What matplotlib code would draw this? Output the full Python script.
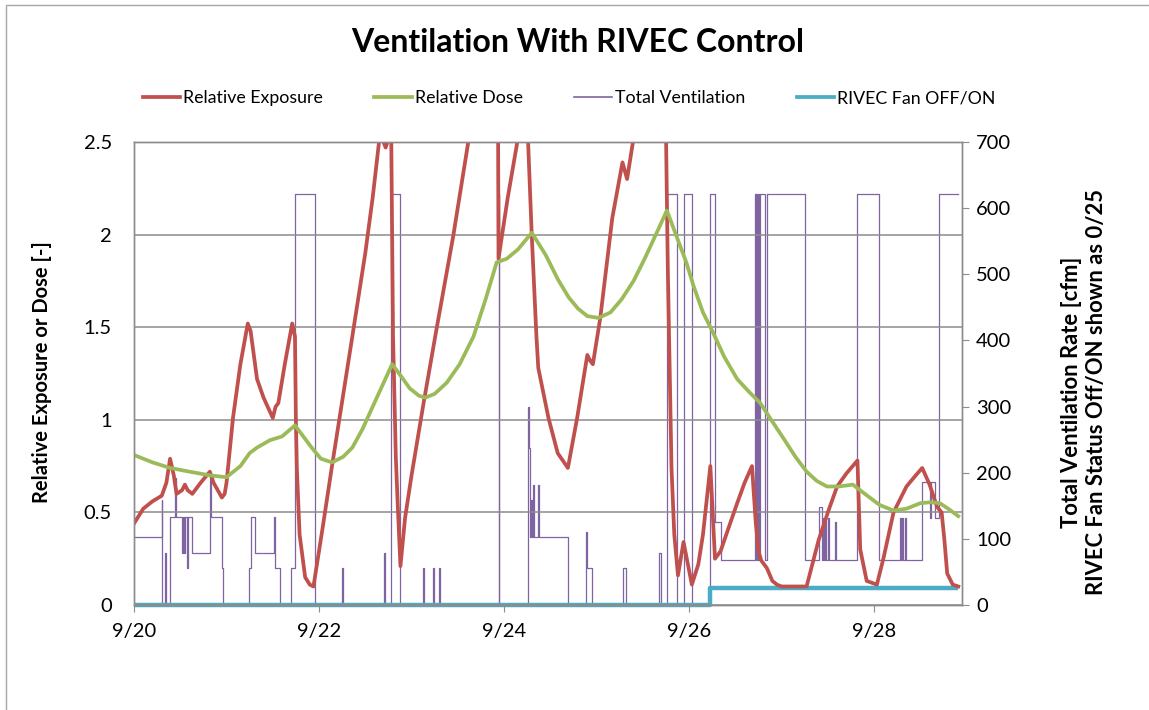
"""Ventilation with RIVEC control: relative exposure/dose on the left axis,
total ventilation and fan status on the right axis."""

import matplotlib

matplotlib.use("Agg")
import matplotlib.pyplot as plt
import matplotlib.patches as mpatches
import pandas as pd

plt.rcParams["font.family"] = ["Lato", "DejaVu Sans"]

START = pd.Timestamp("2009-09-20")

# days since 9/20 and relative exposure [-]
exp_days = [0.00, 0.10, 0.20, 0.30, 0.35, 0.39, 0.43, 0.46, 0.52, 0.55, 0.58, 0.63,
            0.72, 0.82, 0.86, 0.95, 0.98, 1.00, 1.07, 1.15, 1.23, 1.26, 1.33, 1.40,
            1.50, 1.53, 1.56, 1.63, 1.71, 1.74, 1.75, 1.76, 1.79, 1.85, 1.90, 1.94,
            2.04, 2.14, 2.25, 2.36, 2.50, 2.58, 2.66, 2.72, 2.78, 2.80, 2.83, 2.85,
            2.88, 2.93, 3.00, 3.13, 3.27, 3.45, 3.61, 3.75, 3.93, 3.94, 4.04, 4.14,
            4.25, 4.26, 4.30, 4.35, 4.37, 4.48, 4.58, 4.69, 4.79, 4.90, 4.93, 4.96,
            5.04, 5.17, 5.28, 5.33, 5.39, 5.55, 5.73, 5.77, 5.81, 5.84, 5.88, 5.94,
            6.03, 6.10, 6.15, 6.23, 6.28, 6.34, 6.45, 6.52, 6.60, 6.68, 6.72, 6.75,
            6.78, 6.84, 6.90, 6.95, 7.00, 7.27, 7.40, 7.50, 7.60, 7.70, 7.82, 7.85,
            7.92, 8.03, 8.10, 8.21, 8.35, 8.45, 8.52, 8.60, 8.68, 8.73, 8.76, 8.79,
            8.85, 8.91]
exposure = [0.44, 0.52, 0.56, 0.59, 0.66, 0.79, 0.70, 0.60, 0.62, 0.65, 0.62, 0.60,
            0.66, 0.72, 0.66, 0.58, 0.60, 0.66, 1.01, 1.30, 1.52, 1.48, 1.22, 1.12,
            1.01, 1.07, 1.09, 1.30, 1.52, 1.45, 1.00, 0.74, 0.38, 0.15, 0.11, 0.10,
            0.42, 0.75, 1.10, 1.45, 1.90, 2.20, 2.55, 2.47, 2.56, 1.45, 0.80, 0.55,
            0.21, 0.47, 0.70, 1.09, 1.49, 1.99, 2.49, 2.90, 3.40, 1.87, 2.20, 2.49,
            2.80, 2.50, 1.99, 1.45, 1.28, 1.01, 0.82, 0.74, 1.01, 1.35, 1.32, 1.30,
            1.55, 2.09, 2.39, 2.30, 2.49, 2.90, 3.30, 1.82, 0.74, 0.38, 0.16, 0.34,
            0.11, 0.22, 0.38, 0.75, 0.25, 0.29, 0.45, 0.55, 0.66, 0.75, 0.45, 0.29,
            0.24, 0.20, 0.13, 0.11, 0.10, 0.10, 0.35, 0.50, 0.64, 0.71, 0.78, 0.30,
            0.13, 0.11, 0.25, 0.50, 0.64, 0.70, 0.74, 0.65, 0.53, 0.50, 0.35, 0.17,
            0.11, 0.10]

# days since 9/20 and relative dose [-]
dose_days = [0.00, 0.20, 0.39, 0.60, 0.82, 1.00, 1.15, 1.25, 1.33, 1.47, 1.60, 1.74,
             1.83, 1.92, 2.02, 2.14, 2.26, 2.36, 2.47, 2.57, 2.68, 2.79, 2.88, 2.98,
             3.08, 3.15, 3.25, 3.38, 3.52, 3.67, 3.80, 3.92, 4.03, 4.15, 4.30, 4.45,
             4.58, 4.70, 4.80, 4.90, 5.02, 5.15, 5.27, 5.40, 5.52, 5.65, 5.76, 5.85,
             5.97, 6.05, 6.15, 6.26, 6.38, 6.52, 6.65, 6.77, 6.90, 7.02, 7.15, 7.27,
             7.38, 7.49, 7.62, 7.77, 7.90, 8.06, 8.21, 8.35, 8.50, 8.62, 8.71, 8.80,
             8.91]
dose = [0.81, 0.77, 0.74, 0.72, 0.70, 0.69, 0.75, 0.82, 0.85, 0.89, 0.91, 0.97,
        0.91, 0.85, 0.79, 0.77, 0.80, 0.85, 0.95, 1.06, 1.18, 1.30, 1.24, 1.17,
        1.13, 1.12, 1.14, 1.20, 1.30, 1.45, 1.65, 1.85, 1.87, 1.92, 2.01, 1.89,
        1.76, 1.66, 1.60, 1.56, 1.55, 1.58, 1.65, 1.75, 1.87, 2.01, 2.13, 2.01,
        1.85, 1.72, 1.58, 1.47, 1.34, 1.22, 1.15, 1.09, 0.99, 0.90, 0.80, 0.72,
        0.67, 0.64, 0.64, 0.65, 0.60, 0.54, 0.51, 0.52, 0.55, 0.555, 0.55, 0.52,
        0.48]

# step changes of total ventilation [cfm]
vent_days = [0.00, 0.30, 0.305, 0.335, 0.35, 0.39, 0.44, 0.45, 0.515, 0.53, 0.54, 0.55,
             0.57, 0.58, 0.63, 0.82, 0.83, 0.95, 0.96, 1.24, 1.27, 1.31, 1.51, 1.525,
             1.58, 1.70, 1.74, 1.96, 2.245, 2.26, 2.705, 2.715, 2.78, 2.875, 3.12, 3.13,
             3.23, 3.24, 3.30, 3.31, 3.94, 3.95, 4.26, 4.27, 4.28, 4.29, 4.30, 4.31,
             4.32, 4.37, 4.38, 4.695, 4.89, 4.90, 4.95, 5.29, 5.32, 5.67, 5.70, 5.76,
             5.87, 5.94, 6.03, 6.23, 6.28, 6.34, 6.71, 6.72, 6.725, 6.735, 6.74, 6.76,
             6.77, 6.82, 6.84, 7.25, 7.40, 7.435, 7.45, 7.46, 7.47, 7.48, 7.50, 7.51,
             7.58, 7.59, 7.81, 8.05, 8.28, 8.29, 8.30, 8.31, 8.33, 8.34, 8.515, 8.605,
             8.615, 8.66, 8.70, 8.905]
vent_cfm = [103, 158, 0, 78, 0, 133, 192, 133, 78, 133, 78, 133,
            56, 133, 78, 195, 133, 56, 0, 56, 133, 78, 133, 56,
            0, 56, 621, 0, 56, 0, 78, 0, 621, 0, 56, 0,
            56, 0, 56, 0, 621, 0, 299, 237, 103, 158, 103, 181,
            103, 181, 103, 0, 110, 56, 0, 56, 0, 78, 0, 621,
            0, 621, 0, 621, 125, 68, 621, 68, 621, 68, 621, 68,
            621, 68, 621, 68, 148, 68, 131, 68, 131, 68, 131, 68,
            125, 68, 621, 68, 131, 68, 131, 68, 131, 68, 186, 131,
            186, 131, 621, 621]

# RIVEC fan status, shown as 0 / 25 on the cfm axis
fan_days = [0.00, 6.23, 8.91]
fan_state = [0, 25, 25]

tick_labels = ["9/20", "9/22", "9/24", "9/26", "9/28"]


def to_dates(days):
    return [START + pd.Timedelta(days=d) for d in days]


RED = "#C0504D"
GREEN = "#9BBB59"
PURPLE = "#8064A2"
TEAL = "#4BACC6"
GRID = "#8C8C8C"

fig = plt.figure(figsize=(11.49, 7.10), dpi=100)
ax = fig.add_axes([134 / 1149, 1 - 605 / 710, (962 - 134) / 1149, (605 - 142) / 710])
ax2 = ax.twinx()
ax.set_zorder(ax2.get_zorder() + 1)
ax.patch.set_visible(False)

ax2.plot(to_dates(vent_days), vent_cfm, drawstyle="steps-post", color=PURPLE, lw=0.9)
ax2.plot(to_dates(fan_days), fan_state, drawstyle="steps-post", color=TEAL, lw=3.2,
         clip_on=False, solid_capstyle="butt")
ax.plot(to_dates(exp_days), exposure, color=RED, lw=2.7)
ax.plot(to_dates(dose_days), dose, color=GREEN, lw=2.7)

ax.set_ylim(0, 2.5)
ax2.set_ylim(0, 700)
ax.set_yticks([0, 0.5, 1, 1.5, 2, 2.5])
ax.set_yticklabels(["0", "0.5", "1", "1.5", "2", "2.5"])
ax2.set_yticks(range(0, 701, 100))
ax.set_xlim(START, START + pd.Timedelta(days=8.95))
ax.set_xticks(to_dates([0, 2, 4, 6, 8]))
ax.set_xticklabels(tick_labels)

ax.grid(axis="y", color=GRID, lw=1.1)
for a in (ax, ax2):
    for s in a.spines.values():
        s.set_color(GRID)
        s.set_linewidth(1.0)
ax.tick_params(axis="y", length=0, pad=16, labelsize=14.5)
ax.tick_params(axis="x", length=5, color=GRID, pad=8, labelsize=14.5)
ax2.tick_params(axis="y", length=5, color=GRID, pad=5, labelsize=14.5)

fig.text(578 / 1149, 1 - 43 / 710, "Ventilation With RIVEC Control",
         ha="center", va="center", fontsize=23, fontweight="bold")
fig.text(42 / 1149, 1 - 372 / 710, "Relative Exposure or Dose [-]", rotation=90,
         ha="center", va="center", fontsize=14.5, fontweight="bold")
fig.text(1084 / 1149, 1 - 392 / 710,
         "Total Ventilation Rate [cfm]\nRIVEC Fan Status Off/ON shown as 0/25",
         rotation=90, ha="center", va="center", multialignment="center",
         fontsize=15.8, fontweight="bold", linespacing=1.2)

handles = [
    plt.Line2D([], [], color=RED, lw=2.7),
    plt.Line2D([], [], color=GREEN, lw=2.7),
    plt.Line2D([], [], color=PURPLE, lw=1.2),
    plt.Line2D([], [], color=TEAL, lw=2.7),
]
labels = ["Relative Exposure", "Relative Dose", "Total Ventilation", "RIVEC Fan OFF/ON"]
fig.legend(handles, labels, loc="center", bbox_to_anchor=(569 / 1149, 1 - 98 / 710),
           ncol=4, frameon=False, fontsize=12.8, handlelength=2.1, handletextpad=0.17,
           columnspacing=2.9)

# chart-area border (top and left edges visible in the original)
fig.patches.append(mpatches.Rectangle((6 / 1149, -0.1), 1.2, 1 - 5 / 710 + 0.1,
                                      transform=fig.transFigure, fill=False,
                                      edgecolor="#A6A6A6", lw=1.0))

fig.savefig("out.png", dpi=100)
